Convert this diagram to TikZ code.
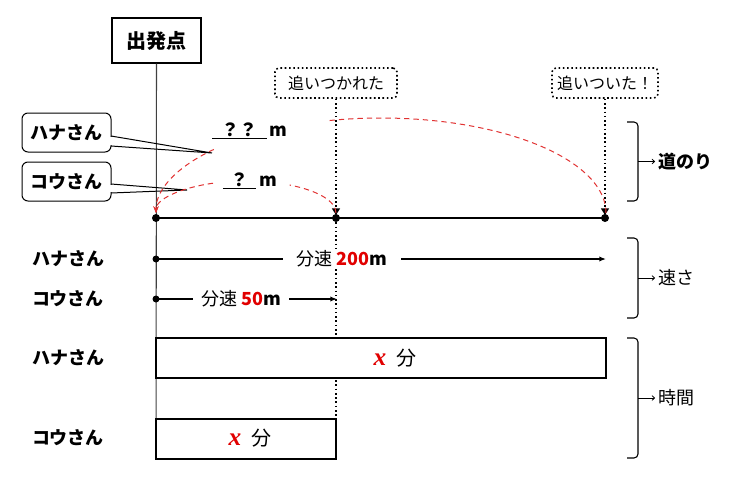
\documentclass[tikz,border=0pt]{standalone}
\usepackage{fontspec}
\setmainfont{Noto Sans CJK JP}
\newfontfamily\latinfont{Liberation Serif}
\usetikzlibrary{positioning,arrows.meta,calc}
\definecolor{arcred}{RGB}{225,50,50}
\definecolor{numred}{RGB}{225,0,0}
\newcommand\xvar{{\latinfont\bfseries\itshape\fontsize{19}{20}\selectfont\color{numred}x}}
\newcommand\num[1]{{\bfseries\color{numred}#1}}

\begin{document}
\begin{tikzpicture}[x=0.75pt,y=-0.75pt]
    \tikzset{
        jp/.style={font=\fontsize{13.5}{16}\selectfont},
        jpb/.style={font=\fontsize{13.5}{16}\selectfont\bfseries},
        timelbl/.style={font=\fontsize{15}{18}\selectfont},
        startbox/.style={draw,line width=0.8pt,minimum width=66.75pt,minimum height=33.75pt,inner sep=0pt,font=\fontsize{15}{18}\selectfont\bfseries},
        callout/.style={draw,line width=0.75pt,rounded corners=4.5pt,minimum width=66.75pt,minimum height=29.25pt,inner sep=0pt},
        notebox/.style={draw,dotted,line width=1.2pt,rounded corners=3pt,minimum height=22.5pt,inner sep=0pt,font=\fontsize{12}{14}\selectfont},
        dotline/.style={dotted,line width=1.2pt},
        arcline/.style={arcred,dashed,dash pattern=on 4pt off 3pt,line width=0.75pt},
        spdline/.style={line width=1.1pt,-{Latex[length=5pt,width=4pt]}},
        spdlbl/.style={fill=white,inner ysep=1pt},
        timebox/.style={draw,line width=1.5pt,fill=white},
    }
    \useasboundingbox (0,0) rectangle (733,482);
    % start
    \node[startbox] (start) at (156.5,40.5) {出発点};
    \coordinate (s) at (156,218);
    \coordinate (m) at (336,218);
    \coordinate (e) at (605,218);
    \draw[black!75,line width=0.8pt] (start.south) -- (156,459);
    % callouts
    \node[jpb,callout] (hana) at (66.5,132.5) {ハナさん};
    \node[jpb,callout] (kou) at (66.5,181.5) {コウさん};
    \coordinate (hanatip) at (212,153);
    \coordinate (koutip) at (187,190);
    \fill[white] (110,136.6) rectangle (112.6,145.4);
    \draw[line width=0.75pt] (111,136) -- (hanatip) -- (111,146);
    \fill[white] (110,184.6) rectangle (112.6,192.4);
    \draw[line width=0.75pt] (111,184) -- (koutip) -- (111,193);
    % dotted notes
    \node[notebox,minimum width=91.5pt] (caught) at (336,83) {追いつかれた};
    \node[notebox,minimum width=79.5pt] (catch) at (605,83) {追いついた！};
    \draw[dotline,-{Triangle[length=5pt,width=6pt]}] (caught.south) -- ($(m)+(0,-3)$);
    \draw[dotline] (m) -- (336,419);
    \draw[dotline,-{Triangle[length=5pt,width=6pt]}] (catch.south) -- ($(e)+(0,-3)$);
    % distance
    \draw[line width=1.6pt] (s) -- (e);
    \foreach \p in {s,m,e} \fill (\p) circle[radius=4];
    \coordinate (hc) at (381,213);
    \coordinate (kc) at (246,213);
    \draw[arcline] ($(hc)+(0:225 and 95)$) arc[start angle=0,end angle=-104,x radius=225,y radius=95];
    \draw[arcline,-{Stealth[length=5pt,width=4pt]}] ($(hc)+(-138:225 and 95)$) arc[start angle=-138,end angle=-180,x radius=225,y radius=95];
    \draw[arcline] ($(kc)+(0:90 and 32)$) arc[start angle=0,end angle=-61,x radius=90,y radius=32];
    \draw[arcline,-{Stealth[length=5pt,width=4pt]}] ($(kc)+(-111.5:90 and 32)$) arc[start angle=-111.5,end angle=-180,x radius=90,y radius=32];
    \node[jpb] (hanadist) at (250,131) {\underline{\hbox to 41pt{\hss ？？\hss}}\,m};
    \node[jpb] (koudist) at (250,181) {\underline{\hbox to 25pt{\hss ？\hss}}\,m};
    % speed
    \node[jpb] (hanaspd) at (68,259) {ハナさん};
    \node[jpb] (kouspd) at (68,299) {コウさん};
    \draw[spdline] (156,259) -- (606,259);
    \draw[spdline] (156,299) -- (337,299);
    \fill (156,259) circle[radius=3.5];
    \fill (156,299) circle[radius=3.5];
    \node[jp,spdlbl,inner xsep=10pt] (hanav) at (342,259) {分速 \num{200}\textbf{m}};
    \node[jp,spdlbl,inner xsep=6pt] (kouv) at (241,299) {分速 \num{50}\textbf{m}};
    % time
    \node[jpb] (hanatim) at (68,358) {ハナさん};
    \node[jpb] (koutim) at (68,438) {コウさん};
    \draw[timebox] (156,338) rectangle (606,378);
    \draw[timebox] (156,419) rectangle (336,459);
    \node[timelbl] (hanat) at (395,358) {\xvar\enspace 分};
    \node[timelbl] (kout) at (250,438) {\xvar\enspace 分};
    % brackets
    \foreach \ya/\yb/\txt/\f in {122/201/道のり/jpb, 238/318/速さ/jp, 338/458/時間/jp}{
        \draw[line width=0.8pt,rounded corners=3pt] (627,\ya) -- (638,\ya) -- (638,\yb) -- (627,\yb);
        \draw[line width=0.6pt,-{To[length=2.5pt,width=4pt]}] (638,{(\ya+\yb)/2}) -- (655,{(\ya+\yb)/2})
            node[\f,anchor=west,inner sep=2pt] {\txt};
    }
\end{tikzpicture}
\end{document}
